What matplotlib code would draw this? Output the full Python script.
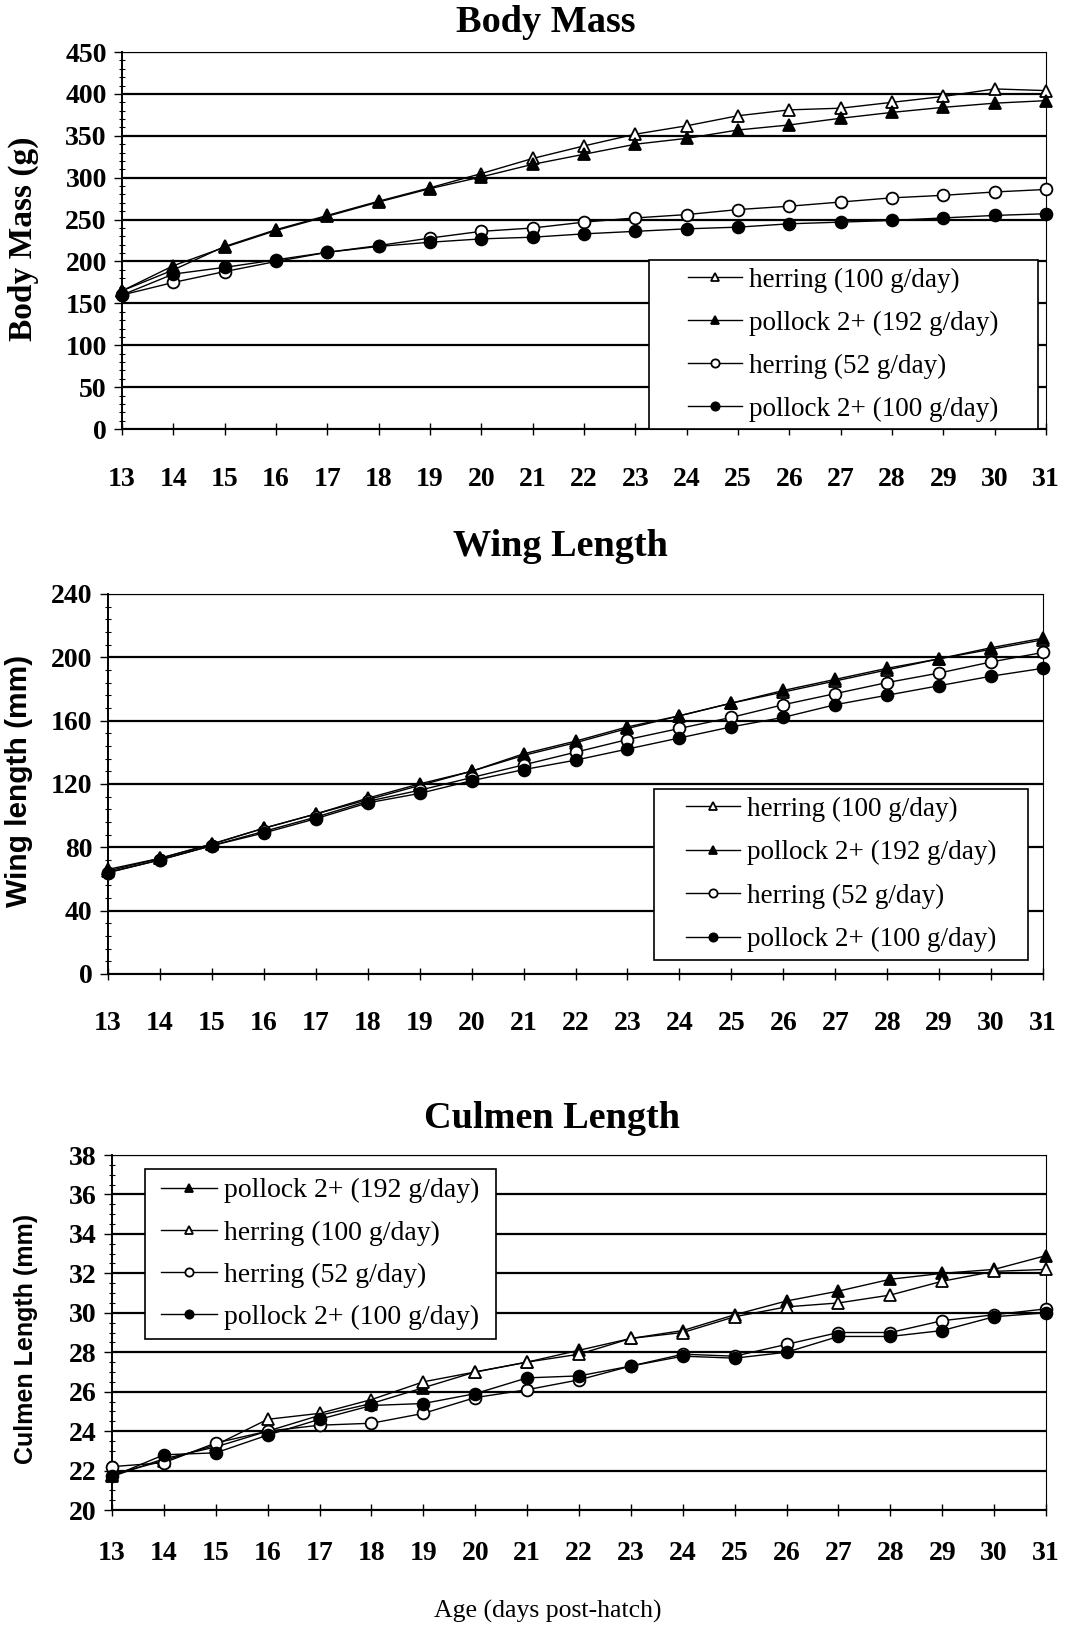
import matplotlib
matplotlib.use("Agg")
import matplotlib.pyplot as plt
from matplotlib.ticker import MultipleLocator
from matplotlib.patches import Rectangle

plt.rcParams['font.family'] = ['Liberation Serif', 'DejaVu Serif']

days = list(range(13, 32))

# body mass (g)
mass_herring100 = [165, 190, 218, 238, 255, 272, 288, 305, 323, 338, 352, 362, 374, 381, 383, 390, 397, 406, 404]
mass_pollock192 = [165, 195, 217, 237, 254, 271, 287, 301, 316, 328, 340, 347, 357, 363, 371, 378, 384, 389, 392]
mass_herring52 = [160, 175, 188, 200, 211, 219, 228, 236, 240, 247, 252, 256, 262, 266, 271, 276, 279, 283, 286]
mass_pollock100 = [160, 185, 193, 202, 211, 218, 223, 227, 229, 233, 236, 239, 241, 245, 247, 249, 252, 255, 257]

# wing length (mm)
wing_herring100 = [66, 73, 82, 92, 101, 111, 120, 128, 138, 146, 155, 163, 171, 178, 185, 192, 199, 205, 211]
wing_pollock192 = [65, 73, 82, 92, 101, 110, 119, 128, 139, 147, 156, 163, 171, 179, 186, 193, 199, 206, 212]
wing_herring52 = [64, 72, 81, 90, 99, 109, 116, 124, 132, 140, 148, 155, 162, 170, 177, 184, 190, 197, 203]
wing_pollock100 = [64, 72, 81, 89, 98, 108, 114, 122, 129, 135, 142, 149, 156, 162, 170, 176, 182, 188, 193]

# culmen length (mm)
cul_pollock192 = [21.7, 22.6, 23.2, 24.0, 24.8, 25.4, 26.2, 27.0, 27.5, 28.1, 28.7, 29.1, 29.9, 30.6, 31.1, 31.7, 32.0, 32.2, 32.9]
cul_herring100 = [21.8, 22.5, 23.3, 24.6, 24.9, 25.6, 26.5, 27.0, 27.5, 27.9, 28.7, 29.0, 29.8, 30.3, 30.5, 30.9, 31.6, 32.1, 32.2]
cul_herring52 = [22.2, 22.4, 23.4, 24.0, 24.3, 24.4, 24.9, 25.7, 26.1, 26.6, 27.3, 27.9, 27.8, 28.4, 29.0, 29.0, 29.6, 29.9, 30.2]
cul_pollock100 = [21.7, 22.8, 22.9, 23.8, 24.6, 25.3, 25.4, 25.9, 26.7, 26.8, 27.3, 27.8, 27.7, 28.0, 28.8, 28.8, 29.1, 29.8, 30.0]

lab_h100 = 'herring (100 g/day)'
lab_p192 = 'pollock 2+ (192 g/day)'
lab_h52 = 'herring (52 g/day)'
lab_p100 = 'pollock 2+ (100 g/day)'

styles = {
    lab_h100: dict(marker='^', mfc='white'),
    lab_p192: dict(marker='^', mfc='black'),
    lab_h52: dict(marker='o', mfc='white'),
    lab_p100: dict(marker='o', mfc='black'),
}

fig = plt.figure(figsize=(10.65, 16.27), dpi=100)


def panel(rect, series, ymax, ystep, yminor, ymin, legbox, legsize, xpad, legspace):
    ax = fig.add_axes(rect)
    for i in range(int(round((ymax - ymin) / ystep)) + 1):
        ax.axhline(ymin + i * ystep, color='black', lw=1.6, zorder=1)
    for lab, vals in series:
        st = styles[lab]
        ax.plot(days, vals, color='black', lw=1.0, marker=st['marker'], mfc=st['mfc'],
                mec='black', mew=1.3, ms=8.5, label=lab, clip_on=False, zorder=3)
    ax.set_xlim(13, 31)
    ax.set_ylim(ymin, ymax)
    ax.set_xticks(days)
    ax.set_yticks([ymin + i * ystep for i in range(int(round((ymax - ymin) / ystep)) + 1)])
    ax.yaxis.set_minor_locator(MultipleLocator(yminor))
    for t in ax.get_xticklabels() + ax.get_yticklabels():
        t.set_fontweight('bold')
        t.set_fontsize(20)
    ax.tick_params(axis='x', direction='inout', length=8, width=1, pad=xpad)
    ax.tick_params(axis='y', which='major', direction='out', length=6, width=1, pad=5)
    ax.tick_params(axis='y', which='minor', direction='inout', length=4, width=0.8)
    for s in ax.spines.values():
        s.set_linewidth(0.8)
    ax.spines['left'].set_linewidth(1.4)

    # legend frame drawn separately, legend content centred in it
    x0, y0, x1, y1 = legbox
    ax.add_patch(Rectangle((x0, y0), x1 - x0, y1 - y0, transform=ax.transAxes,
                           facecolor='white', edgecolor='black', lw=1.2, zorder=4))
    leg = ax.legend(fontsize=legsize, frameon=False, loc='center',
                    bbox_to_anchor=((x0 + x1) / 2, (y0 + y1) / 2),
                    handlelength=2.0, handletextpad=0.25, labelspacing=legspace,
                    borderpad=0, borderaxespad=0, markerscale=0.7)
    leg.set_zorder(5)
    return ax


panel([0.1146, 0.7363, 0.8676, 0.2317],
      [(lab_h100, mass_herring100), (lab_p192, mass_pollock192),
       (lab_h52, mass_herring52), (lab_p100, mass_pollock100)],
      450, 50, 10, 0, (0.570, 0.0, 0.991, 0.448), 19.5, 23, 0.66)

panel([0.1014, 0.4014, 0.878, 0.2336],
      [(lab_h100, wing_herring100), (lab_p192, wing_pollock192),
       (lab_h52, wing_herring52), (lab_p100, wing_pollock100)],
      240, 40, 8, 0, (0.584, 0.037, 0.984, 0.487), 19.5, 23, 0.68)

panel([0.1052, 0.0719, 0.877, 0.2182],
      [(lab_p192, cul_pollock192), (lab_h100, cul_herring100),
       (lab_h52, cul_herring52), (lab_p100, cul_pollock100)],
      38, 2, 0.5, 20, (0.035, 0.482, 0.411, 0.961), 20, 18, 0.6)

# titles
fig.text(546 / 1065, 1 - 23 / 1627, 'Body Mass', ha='center', va='center', fontsize=27.5, fontweight='bold')
fig.text(560 / 1065, 1 - 547 / 1627, 'Wing Length', ha='center', va='center', fontsize=27.5, fontweight='bold')
fig.text(552 / 1065, 1 - 1119 / 1627, 'Culmen Length', ha='center', va='center', fontsize=27.5, fontweight='bold')

# y labels
fig.text(23 / 1065, 1 - 239 / 1627, 'Body Mass (g)', rotation=90, ha='center', va='center',
         fontsize=24, fontweight='bold')
fig.text(19 / 1065, 1 - 781 / 1627, 'Wing length (mm)', rotation=90, ha='center', va='center',
         fontsize=21.5, fontweight='bold', family=['Liberation Sans', 'DejaVu Sans'])
fig.text(26 / 1065, 1 - 1339 / 1627, 'Culmen Length (mm)', rotation=90, ha='center', va='center',
         fontsize=18, fontweight='bold', family=['Liberation Sans', 'DejaVu Sans'])

# x label
fig.text(548 / 1065, 1 - 1611 / 1627, 'Age (days post-hatch)', ha='center', va='center', fontsize=18.5)

fig.savefig('out.png', dpi=100)
